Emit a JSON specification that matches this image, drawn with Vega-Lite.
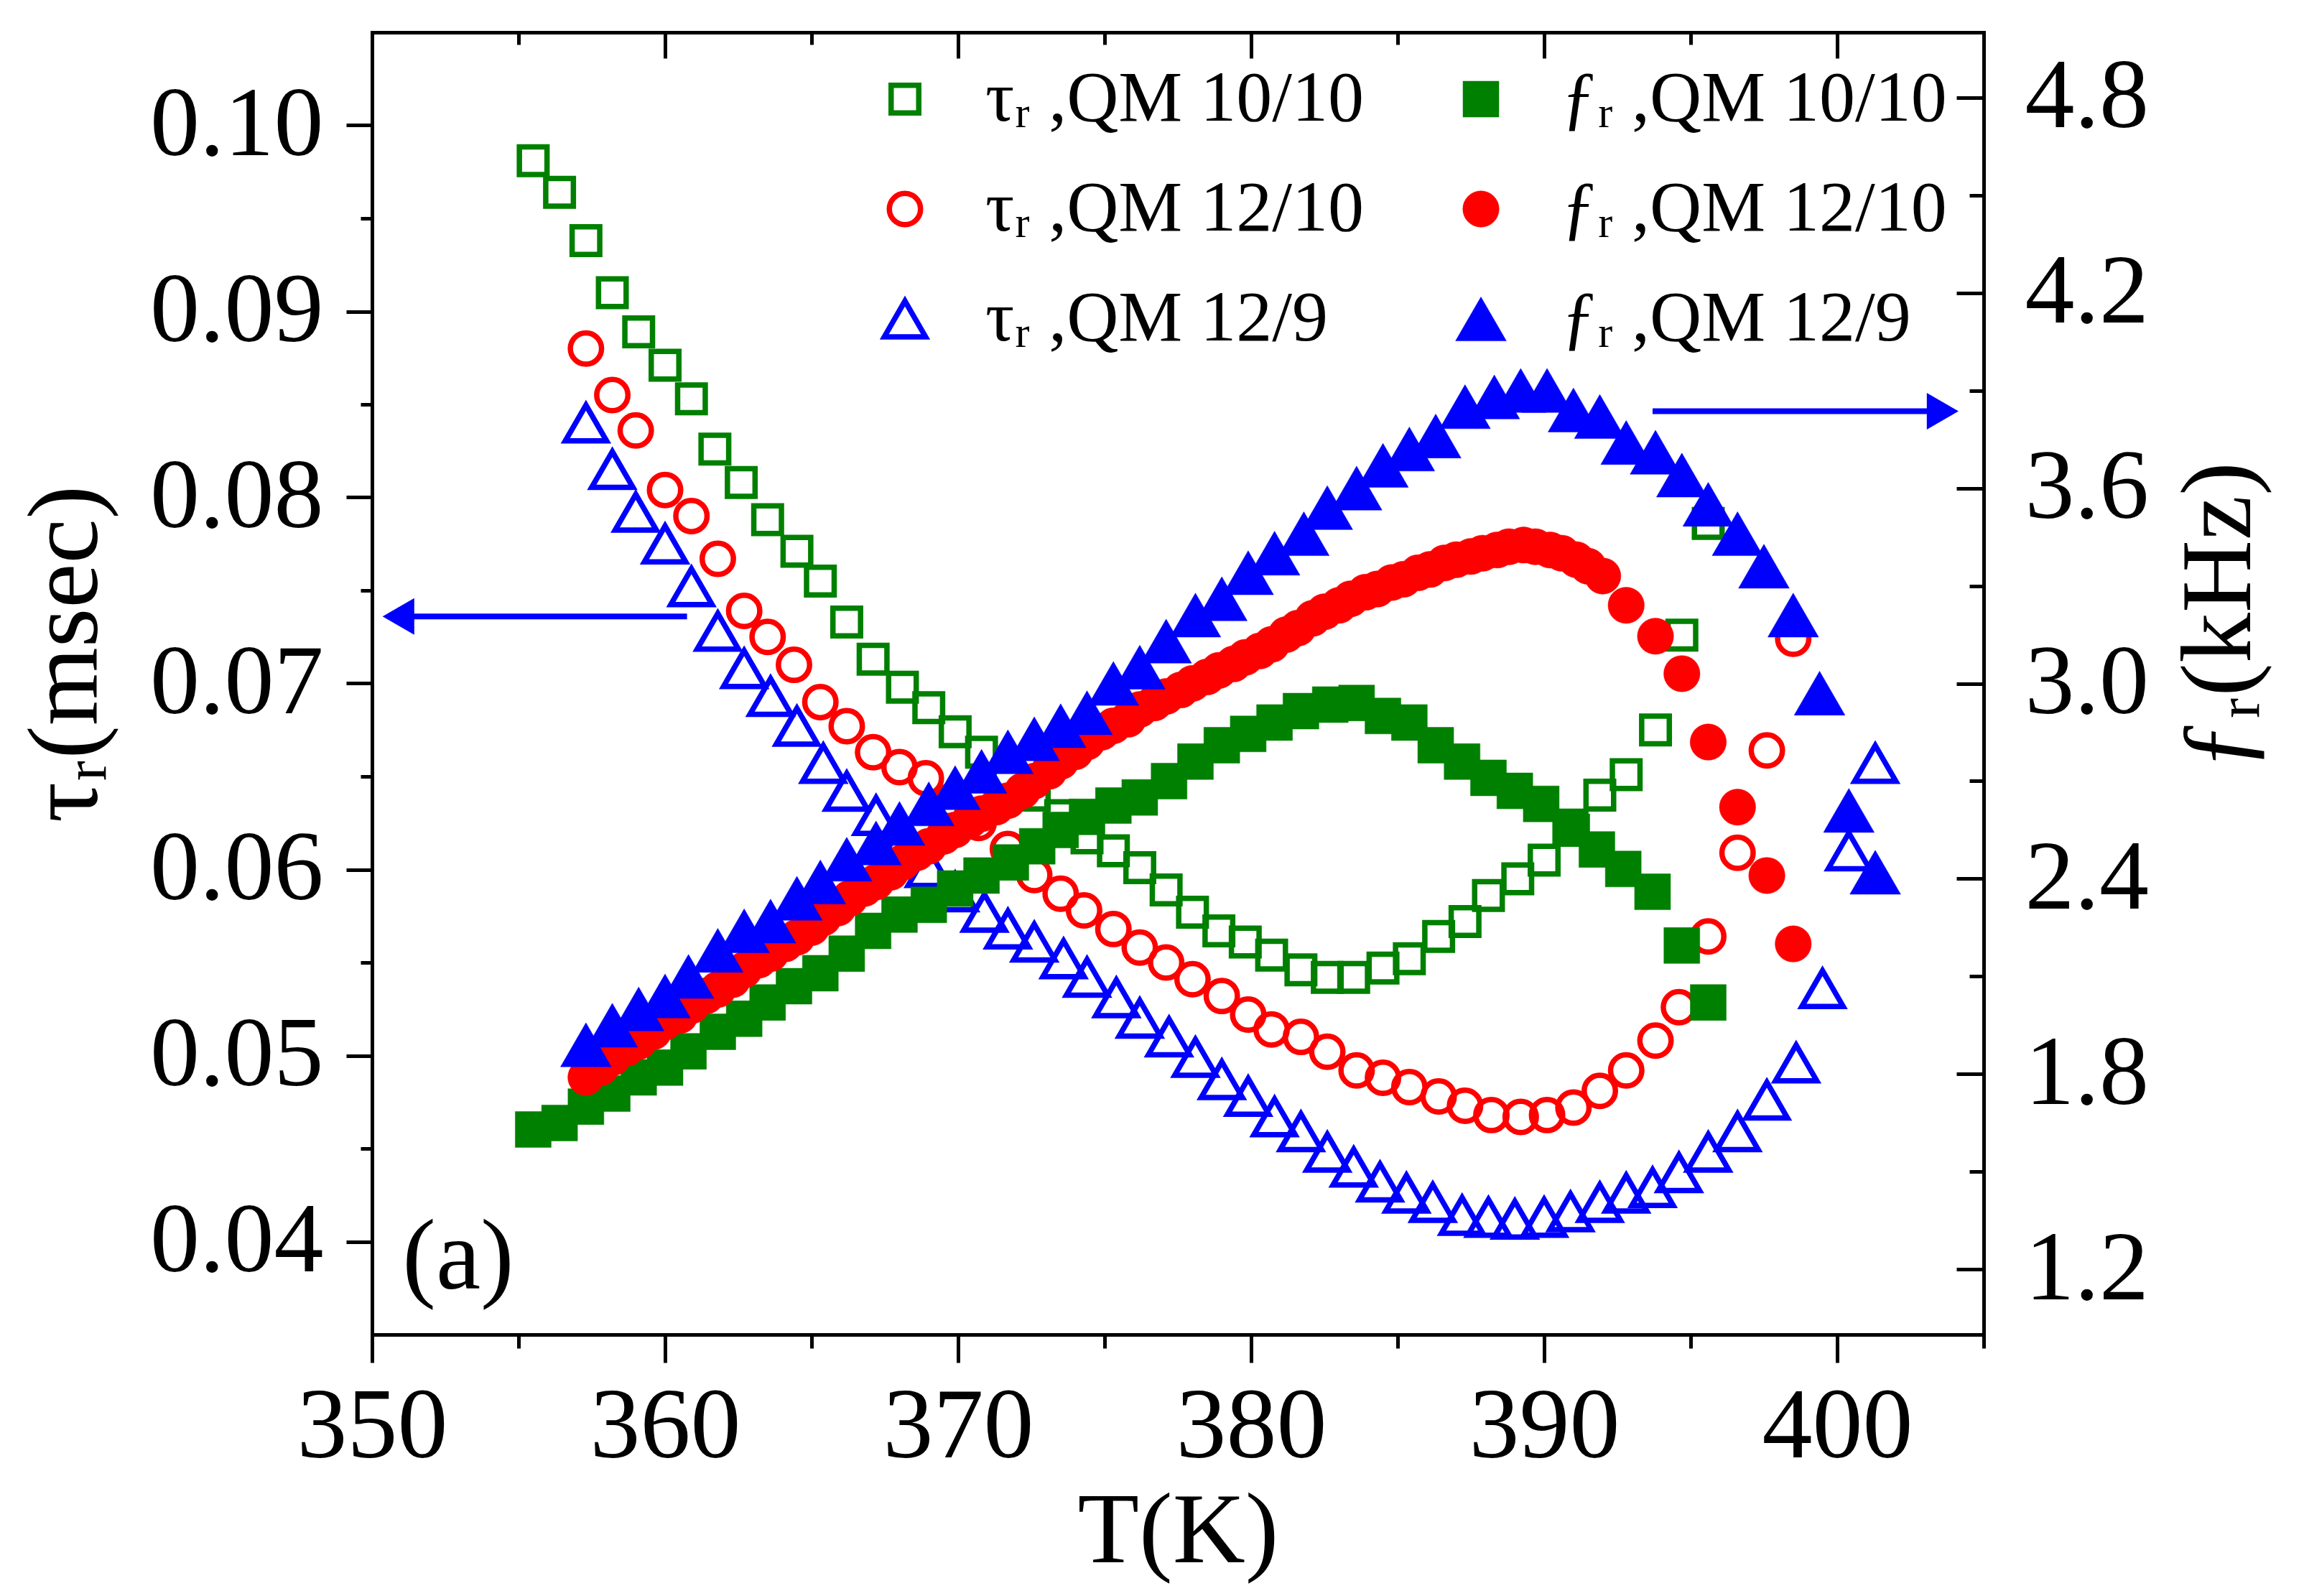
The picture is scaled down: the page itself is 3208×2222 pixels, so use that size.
{
  "$schema": "https://vega.github.io/schema/vega-lite/v6.json",
  "width": 2244,
  "height": 1813,
  "autosize": {"type": "none"},
  "padding": {"left": 518, "top": 45, "right": 446, "bottom": 364},
  "background": "white",
  "datasets": {
    "tau": [
      {"T":355.5,"v":0.0981,"s":"t10/10"},{"T":356.4,"v":0.0964,"s":"t10/10"},{"T":357.3,"v":0.0938,"s":"t10/10"},{"T":358.2,"v":0.0910,"s":"t10/10"},
      {"T":359.1,"v":0.0889,"s":"t10/10"},{"T":360.0,"v":0.0871,"s":"t10/10"},{"T":360.9,"v":0.0853,"s":"t10/10"},{"T":361.7,"v":0.0826,"s":"t10/10"},
      {"T":362.6,"v":0.0808,"s":"t10/10"},{"T":363.5,"v":0.0788,"s":"t10/10"},{"T":364.5,"v":0.0771,"s":"t10/10"},{"T":365.3,"v":0.0755,"s":"t10/10"},
      {"T":366.2,"v":0.0733,"s":"t10/10"},{"T":367.1,"v":0.0713,"s":"t10/10"},{"T":368.1,"v":0.0698,"s":"t10/10"},{"T":369.0,"v":0.0687,"s":"t10/10"},
      {"T":369.9,"v":0.0674,"s":"t10/10"},{"T":370.8,"v":0.0663,"s":"t10/10"},{"T":371.7,"v":0.0651,"s":"t10/10"},{"T":372.6,"v":0.0640,"s":"t10/10"},
      {"T":373.5,"v":0.0629,"s":"t10/10"},{"T":374.4,"v":0.0617,"s":"t10/10"},{"T":375.3,"v":0.0610,"s":"t10/10"},{"T":376.2,"v":0.0601,"s":"t10/10"},
      {"T":377.1,"v":0.0589,"s":"t10/10"},{"T":378.0,"v":0.0577,"s":"t10/10"},{"T":378.9,"v":0.0567,"s":"t10/10"},{"T":379.8,"v":0.0561,"s":"t10/10"},
      {"T":380.7,"v":0.0554,"s":"t10/10"},{"T":381.7,"v":0.0546,"s":"t10/10"},{"T":382.6,"v":0.0542,"s":"t10/10"},{"T":383.5,"v":0.0542,"s":"t10/10"},
      {"T":384.5,"v":0.0547,"s":"t10/10"},{"T":385.4,"v":0.0552,"s":"t10/10"},{"T":386.4,"v":0.0564,"s":"t10/10"},{"T":387.3,"v":0.0572,"s":"t10/10"},
      {"T":388.1,"v":0.0586,"s":"t10/10"},{"T":389.1,"v":0.0595,"s":"t10/10"},{"T":390.0,"v":0.0605,"s":"t10/10"},{"T":391.0,"v":0.0621,"s":"t10/10"},
      {"T":391.9,"v":0.0640,"s":"t10/10"},{"T":392.8,"v":0.0651,"s":"t10/10"},{"T":393.8,"v":0.0675,"s":"t10/10"},{"T":394.7,"v":0.0726,"s":"t10/10"},
      {"T":395.6,"v":0.0786,"s":"t10/10"},
      {"T":357.3,"v":0.0880,"s":"t12/10"},{"T":358.2,"v":0.0855,"s":"t12/10"},{"T":359.0,"v":0.0836,"s":"t12/10"},{"T":360.0,"v":0.0804,"s":"t12/10"},
      {"T":360.9,"v":0.0790,"s":"t12/10"},{"T":361.8,"v":0.0767,"s":"t12/10"},{"T":362.7,"v":0.0739,"s":"t12/10"},{"T":363.5,"v":0.0725,"s":"t12/10"},
      {"T":364.4,"v":0.0710,"s":"t12/10"},{"T":365.3,"v":0.0690,"s":"t12/10"},{"T":366.2,"v":0.0677,"s":"t12/10"},{"T":367.1,"v":0.0663,"s":"t12/10"},
      {"T":368.0,"v":0.0655,"s":"t12/10"},{"T":368.9,"v":0.0649,"s":"t12/10"},{"T":369.8,"v":0.0637,"s":"t12/10"},{"T":370.7,"v":0.0625,"s":"t12/10"},
      {"T":371.7,"v":0.0611,"s":"t12/10"},{"T":372.6,"v":0.0597,"s":"t12/10"},{"T":373.5,"v":0.0587,"s":"t12/10"},{"T":374.3,"v":0.0578,"s":"t12/10"},
      {"T":375.3,"v":0.0568,"s":"t12/10"},{"T":376.2,"v":0.0558,"s":"t12/10"},{"T":377.1,"v":0.0550,"s":"t12/10"},{"T":378.0,"v":0.0541,"s":"t12/10"},
      {"T":379.0,"v":0.0532,"s":"t12/10"},{"T":379.9,"v":0.0522,"s":"t12/10"},{"T":380.7,"v":0.0514,"s":"t12/10"},{"T":381.7,"v":0.0510,"s":"t12/10"},
      {"T":382.6,"v":0.0502,"s":"t12/10"},{"T":383.6,"v":0.0492,"s":"t12/10"},{"T":384.5,"v":0.0488,"s":"t12/10"},{"T":385.4,"v":0.0483,"s":"t12/10"},
      {"T":386.4,"v":0.0478,"s":"t12/10"},{"T":387.3,"v":0.0473,"s":"t12/10"},{"T":388.2,"v":0.0468,"s":"t12/10"},{"T":389.2,"v":0.0467,"s":"t12/10"},
      {"T":390.1,"v":0.0468,"s":"t12/10"},{"T":391.0,"v":0.0472,"s":"t12/10"},{"T":391.9,"v":0.0481,"s":"t12/10"},{"T":392.8,"v":0.0492,"s":"t12/10"},
      {"T":393.8,"v":0.0508,"s":"t12/10"},{"T":394.6,"v":0.0526,"s":"t12/10"},{"T":395.6,"v":0.0564,"s":"t12/10"},{"T":396.6,"v":0.0609,"s":"t12/10"},
      {"T":397.6,"v":0.0664,"s":"t12/10"},{"T":398.5,"v":0.0724,"s":"t12/10"},
      {"T":357.3,"v":0.0840,"s":"t12/9"},{"T":358.2,"v":0.0815,"s":"t12/9"},{"T":359.0,"v":0.0792,"s":"t12/9"},{"T":360.0,"v":0.0775,"s":"t12/9"},
      {"T":360.9,"v":0.0752,"s":"t12/9"},{"T":361.8,"v":0.0728,"s":"t12/9"},{"T":362.7,"v":0.0708,"s":"t12/9"},{"T":363.6,"v":0.0693,"s":"t12/9"},
      {"T":364.5,"v":0.0677,"s":"t12/9"},{"T":365.4,"v":0.0657,"s":"t12/9"},{"T":366.2,"v":0.0642,"s":"t12/9"},{"T":367.2,"v":0.0629,"s":"t12/9"},
      {"T":368.1,"v":0.0615,"s":"t12/9"},{"T":369.0,"v":0.0601,"s":"t12/9"},{"T":369.9,"v":0.0588,"s":"t12/9"},{"T":370.9,"v":0.0577,"s":"t12/9"},
      {"T":371.7,"v":0.0568,"s":"t12/9"},{"T":372.6,"v":0.0561,"s":"t12/9"},{"T":373.6,"v":0.0552,"s":"t12/9"},{"T":374.4,"v":0.0542,"s":"t12/9"},
      {"T":375.4,"v":0.0531,"s":"t12/9"},{"T":376.2,"v":0.0520,"s":"t12/9"},{"T":377.2,"v":0.0510,"s":"t12/9"},{"T":378.1,"v":0.0499,"s":"t12/9"},
      {"T":379.0,"v":0.0487,"s":"t12/9"},{"T":379.9,"v":0.0478,"s":"t12/9"},{"T":380.8,"v":0.0467,"s":"t12/9"},{"T":381.7,"v":0.0459,"s":"t12/9"},
      {"T":382.6,"v":0.0448,"s":"t12/9"},{"T":383.5,"v":0.0440,"s":"t12/9"},{"T":384.4,"v":0.0432,"s":"t12/9"},{"T":385.3,"v":0.0426,"s":"t12/9"},
      {"T":386.2,"v":0.0421,"s":"t12/9"},{"T":387.2,"v":0.0414,"s":"t12/9"},{"T":388.1,"v":0.0413,"s":"t12/9"},{"T":389.0,"v":0.0412,"s":"t12/9"},
      {"T":390.0,"v":0.0413,"s":"t12/9"},{"T":390.9,"v":0.0416,"s":"t12/9"},{"T":391.9,"v":0.0421,"s":"t12/9"},{"T":392.8,"v":0.0426,"s":"t12/9"},
      {"T":393.7,"v":0.0429,"s":"t12/9"},{"T":394.6,"v":0.0437,"s":"t12/9"},{"T":395.6,"v":0.0448,"s":"t12/9"},{"T":396.6,"v":0.0459,"s":"t12/9"},
      {"T":397.6,"v":0.0476,"s":"t12/9"},{"T":398.6,"v":0.0496,"s":"t12/9"},{"T":399.5,"v":0.0536,"s":"t12/9"},{"T":400.4,"v":0.0610,"s":"t12/9"},
      {"T":401.3,"v":0.0657,"s":"t12/9"}
    ],
    "freq": [
      {"T":355.5,"v":1.63,"s":"f10/10"},{"T":356.4,"v":1.65,"s":"f10/10"},{"T":357.3,"v":1.70,"s":"f10/10"},{"T":358.2,"v":1.74,"s":"f10/10"},
      {"T":359.1,"v":1.79,"s":"f10/10"},{"T":360.0,"v":1.82,"s":"f10/10"},{"T":360.8,"v":1.87,"s":"f10/10"},{"T":361.8,"v":1.93,"s":"f10/10"},
      {"T":362.7,"v":1.97,"s":"f10/10"},{"T":363.5,"v":2.02,"s":"f10/10"},{"T":364.4,"v":2.07,"s":"f10/10"},{"T":365.3,"v":2.11,"s":"f10/10"},
      {"T":366.2,"v":2.17,"s":"f10/10"},{"T":367.1,"v":2.24,"s":"f10/10"},{"T":368.0,"v":2.29,"s":"f10/10"},{"T":369.0,"v":2.32,"s":"f10/10"},
      {"T":369.9,"v":2.37,"s":"f10/10"},{"T":370.8,"v":2.41,"s":"f10/10"},{"T":371.8,"v":2.45,"s":"f10/10"},{"T":372.7,"v":2.50,"s":"f10/10"},
      {"T":373.5,"v":2.55,"s":"f10/10"},{"T":374.4,"v":2.59,"s":"f10/10"},{"T":375.3,"v":2.625,"s":"f10/10"},{"T":376.2,"v":2.65,"s":"f10/10"},
      {"T":377.2,"v":2.70,"s":"f10/10"},{"T":378.1,"v":2.76,"s":"f10/10"},{"T":379.0,"v":2.81,"s":"f10/10"},{"T":379.9,"v":2.845,"s":"f10/10"},
      {"T":380.8,"v":2.88,"s":"f10/10"},{"T":381.7,"v":2.915,"s":"f10/10"},{"T":382.7,"v":2.935,"s":"f10/10"},{"T":383.6,"v":2.94,"s":"f10/10"},
      {"T":384.5,"v":2.90,"s":"f10/10"},{"T":385.4,"v":2.88,"s":"f10/10"},{"T":386.3,"v":2.81,"s":"f10/10"},{"T":387.2,"v":2.76,"s":"f10/10"},
      {"T":388.1,"v":2.71,"s":"f10/10"},{"T":389.0,"v":2.67,"s":"f10/10"},{"T":389.9,"v":2.63,"s":"f10/10"},{"T":390.9,"v":2.56,"s":"f10/10"},
      {"T":391.8,"v":2.49,"s":"f10/10"},{"T":392.7,"v":2.43,"s":"f10/10"},{"T":393.7,"v":2.36,"s":"f10/10"},{"T":394.7,"v":2.195,"s":"f10/10"},
      {"T":395.6,"v":2.02,"s":"f10/10"},
      {"T":357.3,"v":1.79,"s":"f12/10"},{"T":357.8,"v":1.82,"s":"f12/10"},{"T":358.2,"v":1.85,"s":"f12/10"},{"T":358.7,"v":1.88,"s":"f12/10"},
      {"T":359.1,"v":1.90,"s":"f12/10"},{"T":359.6,"v":1.93,"s":"f12/10"},{"T":360.0,"v":1.96,"s":"f12/10"},{"T":360.5,"v":1.98,"s":"f12/10"},
      {"T":360.9,"v":2.01,"s":"f12/10"},{"T":361.4,"v":2.04,"s":"f12/10"},{"T":361.8,"v":2.06,"s":"f12/10"},{"T":362.3,"v":2.09,"s":"f12/10"},
      {"T":362.7,"v":2.12,"s":"f12/10"},{"T":363.2,"v":2.15,"s":"f12/10"},{"T":363.6,"v":2.17,"s":"f12/10"},{"T":364.1,"v":2.20,"s":"f12/10"},
      {"T":364.5,"v":2.22,"s":"f12/10"},{"T":365.0,"v":2.25,"s":"f12/10"},{"T":365.4,"v":2.28,"s":"f12/10"},{"T":365.9,"v":2.31,"s":"f12/10"},
      {"T":366.3,"v":2.34,"s":"f12/10"},{"T":366.8,"v":2.37,"s":"f12/10"},{"T":367.2,"v":2.39,"s":"f12/10"},{"T":367.7,"v":2.42,"s":"f12/10"},
      {"T":368.1,"v":2.45,"s":"f12/10"},{"T":368.6,"v":2.48,"s":"f12/10"},{"T":369.0,"v":2.50,"s":"f12/10"},{"T":369.5,"v":2.53,"s":"f12/10"},
      {"T":369.9,"v":2.55,"s":"f12/10"},{"T":370.4,"v":2.58,"s":"f12/10"},{"T":370.8,"v":2.60,"s":"f12/10"},{"T":371.3,"v":2.62,"s":"f12/10"},
      {"T":371.7,"v":2.64,"s":"f12/10"},{"T":372.2,"v":2.67,"s":"f12/10"},{"T":372.6,"v":2.70,"s":"f12/10"},{"T":373.1,"v":2.73,"s":"f12/10"},
      {"T":373.5,"v":2.76,"s":"f12/10"},{"T":374.0,"v":2.79,"s":"f12/10"},{"T":374.4,"v":2.82,"s":"f12/10"},{"T":374.9,"v":2.85,"s":"f12/10"},
      {"T":375.3,"v":2.87,"s":"f12/10"},{"T":375.8,"v":2.89,"s":"f12/10"},{"T":376.2,"v":2.92,"s":"f12/10"},{"T":376.7,"v":2.94,"s":"f12/10"},
      {"T":377.1,"v":2.96,"s":"f12/10"},{"T":377.6,"v":2.98,"s":"f12/10"},{"T":378.0,"v":3.00,"s":"f12/10"},{"T":378.5,"v":3.02,"s":"f12/10"},
      {"T":378.9,"v":3.04,"s":"f12/10"},{"T":379.4,"v":3.06,"s":"f12/10"},{"T":379.8,"v":3.08,"s":"f12/10"},{"T":380.3,"v":3.10,"s":"f12/10"},
      {"T":380.7,"v":3.12,"s":"f12/10"},{"T":381.2,"v":3.15,"s":"f12/10"},{"T":381.6,"v":3.17,"s":"f12/10"},{"T":382.1,"v":3.20,"s":"f12/10"},
      {"T":382.5,"v":3.22,"s":"f12/10"},{"T":383.0,"v":3.24,"s":"f12/10"},{"T":383.4,"v":3.26,"s":"f12/10"},{"T":383.9,"v":3.28,"s":"f12/10"},
      {"T":384.3,"v":3.29,"s":"f12/10"},{"T":384.8,"v":3.31,"s":"f12/10"},{"T":385.2,"v":3.32,"s":"f12/10"},{"T":385.7,"v":3.34,"s":"f12/10"},
      {"T":386.1,"v":3.35,"s":"f12/10"},{"T":386.6,"v":3.37,"s":"f12/10"},{"T":387.0,"v":3.38,"s":"f12/10"},{"T":387.5,"v":3.39,"s":"f12/10"},
      {"T":387.9,"v":3.40,"s":"f12/10"},{"T":388.4,"v":3.41,"s":"f12/10"},{"T":388.8,"v":3.42,"s":"f12/10"},{"T":389.3,"v":3.425,"s":"f12/10"},
      {"T":389.7,"v":3.42,"s":"f12/10"},{"T":390.2,"v":3.41,"s":"f12/10"},{"T":390.6,"v":3.40,"s":"f12/10"},{"T":391.1,"v":3.38,"s":"f12/10"},
      {"T":391.5,"v":3.36,"s":"f12/10"},{"T":392.0,"v":3.33,"s":"f12/10"},{"T":392.8,"v":3.24,"s":"f12/10"},{"T":393.8,"v":3.145,"s":"f12/10"},
      {"T":394.7,"v":3.03,"s":"f12/10"},{"T":395.6,"v":2.82,"s":"f12/10"},{"T":396.6,"v":2.62,"s":"f12/10"},{"T":397.6,"v":2.41,"s":"f12/10"},
      {"T":398.5,"v":2.20,"s":"f12/10"},
      {"T":357.3,"v":1.89,"s":"f12/9"},{"T":358.2,"v":1.95,"s":"f12/9"},{"T":359.1,"v":2.00,"s":"f12/9"},{"T":360.0,"v":2.04,"s":"f12/9"},
      {"T":360.8,"v":2.10,"s":"f12/9"},{"T":361.8,"v":2.18,"s":"f12/9"},{"T":362.7,"v":2.24,"s":"f12/9"},{"T":363.6,"v":2.27,"s":"f12/9"},
      {"T":364.5,"v":2.34,"s":"f12/9"},{"T":365.3,"v":2.39,"s":"f12/9"},{"T":366.2,"v":2.46,"s":"f12/9"},{"T":367.2,"v":2.51,"s":"f12/9"},
      {"T":368.0,"v":2.57,"s":"f12/9"},{"T":369.0,"v":2.63,"s":"f12/9"},{"T":369.9,"v":2.68,"s":"f12/9"},{"T":370.8,"v":2.73,"s":"f12/9"},
      {"T":371.7,"v":2.79,"s":"f12/9"},{"T":372.6,"v":2.83,"s":"f12/9"},{"T":373.5,"v":2.87,"s":"f12/9"},{"T":374.4,"v":2.91,"s":"f12/9"},
      {"T":375.3,"v":3.00,"s":"f12/9"},{"T":376.2,"v":3.05,"s":"f12/9"},{"T":377.1,"v":3.13,"s":"f12/9"},{"T":378.1,"v":3.21,"s":"f12/9"},
      {"T":379.0,"v":3.26,"s":"f12/9"},{"T":379.9,"v":3.34,"s":"f12/9"},{"T":380.8,"v":3.40,"s":"f12/9"},{"T":381.8,"v":3.46,"s":"f12/9"},
      {"T":382.6,"v":3.54,"s":"f12/9"},{"T":383.6,"v":3.60,"s":"f12/9"},{"T":384.5,"v":3.67,"s":"f12/9"},{"T":385.4,"v":3.72,"s":"f12/9"},
      {"T":386.3,"v":3.76,"s":"f12/9"},{"T":387.3,"v":3.85,"s":"f12/9"},{"T":388.3,"v":3.88,"s":"f12/9"},{"T":389.2,"v":3.90,"s":"f12/9"},
      {"T":390.1,"v":3.90,"s":"f12/9"},{"T":391.0,"v":3.84,"s":"f12/9"},{"T":391.9,"v":3.82,"s":"f12/9"},{"T":392.8,"v":3.74,"s":"f12/9"},
      {"T":393.8,"v":3.71,"s":"f12/9"},{"T":394.7,"v":3.64,"s":"f12/9"},{"T":395.6,"v":3.55,"s":"f12/9"},{"T":396.6,"v":3.46,"s":"f12/9"},
      {"T":397.5,"v":3.36,"s":"f12/9"},{"T":398.5,"v":3.21,"s":"f12/9"},{"T":399.4,"v":2.97,"s":"f12/9"},{"T":400.4,"v":2.61,"s":"f12/9"},
      {"T":401.3,"v":2.42,"s":"f12/9"}
    ],
    "arrowTau": [{"T": 360.75, "T2": 350.9, "v": 0.0736}],
    "arrowFreq": [{"T": 393.7, "T2": 403.6, "v": 3.836}],
    "panel": [{"T": 352.94, "v": 0.0391, "t": "(a)"}]
  },
  "layer": [
    {
      "layer": [
        {
          "data": {"name": "tau"},
          "mark": {"type": "point", "opacity": 1},
          "encoding": {
            "x": {
              "field": "T", "type": "quantitative",
              "scale": {"domain": [350, 405], "nice": false, "zero": false},
              "axis": {
                "orient": "bottom",
                "values": [350, 355, 360, 365, 370, 375, 380, 385, 390, 395, 400, 405],
                "format": "d",
                "labelExpr": "datum.value % 10 == 0 ? datum.label : ''",
                "tickSize": {"condition": {"test": "datum.value % 10 == 0", "value": 39}, "value": 19},
                "labelFontSize": 140,
                "labelPadding": 20,
                "title": "T(K)",
                "titleFontSize": 140,
                "titleY": 274,
                "titleBaseline": "middle"
              }
            },
            "y": {
              "field": "v", "type": "quantitative",
              "scale": {"domain": [0.035, 0.105], "nice": false, "zero": false},
              "axis": {
                "orient": "left",
                "values": [0.04, 0.045, 0.05, 0.055, 0.06, 0.065, 0.07, 0.075, 0.08, 0.085, 0.09, 0.095, 0.1],
                "labelExpr": "abs(datum.value*100 - round(datum.value*100)) < 0.01 ? format(datum.value, '.2f') : ''",
                "tickSize": {"condition": {"test": "abs(datum.value*100 - round(datum.value*100)) < 0.01", "value": 36}, "value": 16},
                "labelFontSize": 138,
                "labelPadding": 32,
                "title": "τᵣ(msec)",
                "titleFontSize": 140,
                "titleAngle": 270,
                "titleX": -426,
                "titleY": 865,
                "titleAlign": "center",
                "titleBaseline": "middle"
              }
            },
            "shape": {
              "field": "s", "type": "nominal",
              "scale": {"domain": ["t10/10", "t12/10", "t12/9", "f10/10", "f12/10", "f12/9"], "range": ["square", "circle", "triangle-up", "square", "circle", "triangle-up"]},
              "legend": {
                "orient": "none",
                "legendX": 692,
                "legendY": 43,
                "columns": 2,
                "title": null,
                "padding": 0,
                "labelExpr": "replace(replace(datum.label, 't', 'τᵣ ,QM '), 'f', 'ƒᵣ ,QM ')",
                "labelFontSize": 100,
                "labelLimit": 3000,
                "labelOffset": 62,
                "rowPadding": 53,
                "columnPadding": 112
              }
            },
            "stroke": {
              "field": "s", "type": "nominal",
              "scale": {"domain": ["t10/10", "t12/10", "t12/9", "f10/10", "f12/10", "f12/9"], "range": ["#008000", "#ff0000", "#0000ff", "#008000", "#ff0000", "#0000ff"]}
            },
            "fill": {
              "field": "s", "type": "nominal",
              "scale": {"domain": ["t10/10", "t12/10", "t12/9", "f10/10", "f12/10", "f12/9"], "range": ["transparent", "transparent", "transparent", "#008000", "#ff0000", "#0000ff"]}
            },
            "size": {
              "field": "s", "type": "nominal",
              "scale": {"type": "ordinal", "domain": ["t10/10", "t12/10", "t12/9", "f10/10", "f12/10", "f12/9"], "range": [1480, 1890, 3300, 2500, 2550, 5000]}
            },
            "strokeWidth": {
              "field": "s", "type": "nominal",
              "scale": {"type": "ordinal", "domain": ["t10/10", "t12/10", "t12/9", "f10/10", "f12/10", "f12/9"], "range": [7.5, 7.5, 7.5, 0.5, 0.5, 0.5]}
            }
          }
        },
        {
          "data": {"name": "arrowTau"},
          "mark": {"type": "rule", "color": "#0000ff", "strokeWidth": 8},
          "encoding": {
            "x": {"field": "T", "type": "quantitative"},
            "x2": {"field": "T2"},
            "y": {"field": "v", "type": "quantitative"}
          }
        },
        {
          "data": {"name": "arrowTau"},
          "mark": {"type": "point", "shape": "triangle-left", "filled": true, "size": 2600, "color": "#0000ff", "opacity": 1},
          "encoding": {
            "x": {"field": "T2", "type": "quantitative"},
            "y": {"field": "v", "type": "quantitative"}
          }
        },
        {
          "data": {"name": "panel"},
          "mark": {"type": "text", "fontSize": 140, "font": "Liberation Serif", "color": "black", "align": "center", "baseline": "middle"},
          "encoding": {
            "x": {"field": "T", "type": "quantitative"},
            "y": {"field": "v", "type": "quantitative"},
            "text": {"field": "t"}
          }
        }
      ]
    },
    {
      "layer": [
        {
          "data": {"name": "freq"},
          "mark": {"type": "point", "opacity": 1},
          "encoding": {
            "x": {
              "field": "T", "type": "quantitative",
              "scale": {"domain": [350, 405], "nice": false, "zero": false},
              "axis": {
                "orient": "top",
                "values": [350, 355, 360, 365, 370, 375, 380, 385, 390, 395, 400, 405],
                "labels": false,
                "tickSize": {"condition": {"test": "datum.value % 10 == 0", "value": -36}, "value": -17},
                "title": null
              }
            },
            "y": {
              "field": "v", "type": "quantitative",
              "scale": {"domain": [1.0, 5.0], "nice": false, "zero": false},
              "axis": {
                "orient": "right",
                "values": [1.2, 1.5, 1.8, 2.1, 2.4, 2.7, 3.0, 3.3, 3.6, 3.9, 4.2, 4.5, 4.8],
                "labelExpr": "abs((datum.value-1.2)/0.6 - round((datum.value-1.2)/0.6)) < 0.01 ? format(datum.value, '.1f') : ''",
                "tickSize": {"condition": {"test": "abs((datum.value-1.2)/0.6 - round((datum.value-1.2)/0.6)) < 0.01", "value": -38}, "value": -20},
                "labelFontSize": 138,
                "labelPadding": 95,
                "title": "ƒᵣ(kHz)",
                "titleFontSize": 140,
                "titleAngle": 270,
                "titleX": 328,
                "titleY": 812,
                "titleAlign": "center",
                "titleBaseline": "middle"
              }
            },
            "shape": {
              "field": "s", "type": "nominal",
              "scale": {"domain": ["t10/10", "t12/10", "t12/9", "f10/10", "f12/10", "f12/9"], "range": ["square", "circle", "triangle-up", "square", "circle", "triangle-up"]}
            },
            "stroke": {
              "field": "s", "type": "nominal",
              "scale": {"domain": ["t10/10", "t12/10", "t12/9", "f10/10", "f12/10", "f12/9"], "range": ["#008000", "#ff0000", "#0000ff", "#008000", "#ff0000", "#0000ff"]}
            },
            "fill": {
              "field": "s", "type": "nominal",
              "scale": {"domain": ["t10/10", "t12/10", "t12/9", "f10/10", "f12/10", "f12/9"], "range": ["transparent", "transparent", "transparent", "#008000", "#ff0000", "#0000ff"]}
            },
            "size": {
              "field": "s", "type": "nominal",
              "scale": {"type": "ordinal", "domain": ["t10/10", "t12/10", "t12/9", "f10/10", "f12/10", "f12/9"], "range": [1480, 1890, 3300, 2500, 2550, 5000]}
            },
            "strokeWidth": {
              "field": "s", "type": "nominal",
              "scale": {"type": "ordinal", "domain": ["t10/10", "t12/10", "t12/9", "f10/10", "f12/10", "f12/9"], "range": [7.5, 7.5, 7.5, 0.5, 0.5, 0.5]}
            }
          }
        },
        {
          "data": {"name": "arrowFreq"},
          "mark": {"type": "rule", "color": "#0000ff", "strokeWidth": 8},
          "encoding": {
            "x": {"field": "T", "type": "quantitative"},
            "x2": {"field": "T2"},
            "y": {"field": "v", "type": "quantitative"}
          }
        },
        {
          "data": {"name": "arrowFreq"},
          "mark": {"type": "point", "shape": "triangle-right", "filled": true, "size": 2600, "color": "#0000ff", "opacity": 1},
          "encoding": {
            "x": {"field": "T2", "type": "quantitative"},
            "y": {"field": "v", "type": "quantitative"}
          }
        }
      ]
    }
  ],
  "resolve": {
    "scale": {"y": "independent"},
    "axis": {"x": "independent", "y": "independent"}
  },
  "config": {
    "view": {"stroke": null},
    "font": "Liberation Serif",
    "axis": {
      "grid": false,
      "labelFont": "Liberation Serif",
      "titleFont": "Liberation Serif",
      "labelColor": "black",
      "titleColor": "black",
      "titleFontWeight": "normal",
      "domainColor": "black",
      "domainWidth": 5,
      "domainCap": "square",
      "tickColor": "black",
      "tickWidth": 5,
      "labelFlush": false,
      "labelOverlap": false,
      "labelBound": false,
      "labelLimit": 2000
    },
    "legend": {
      "labelFont": "Liberation Serif",
      "labelColor": "black"
    }
  }
}
